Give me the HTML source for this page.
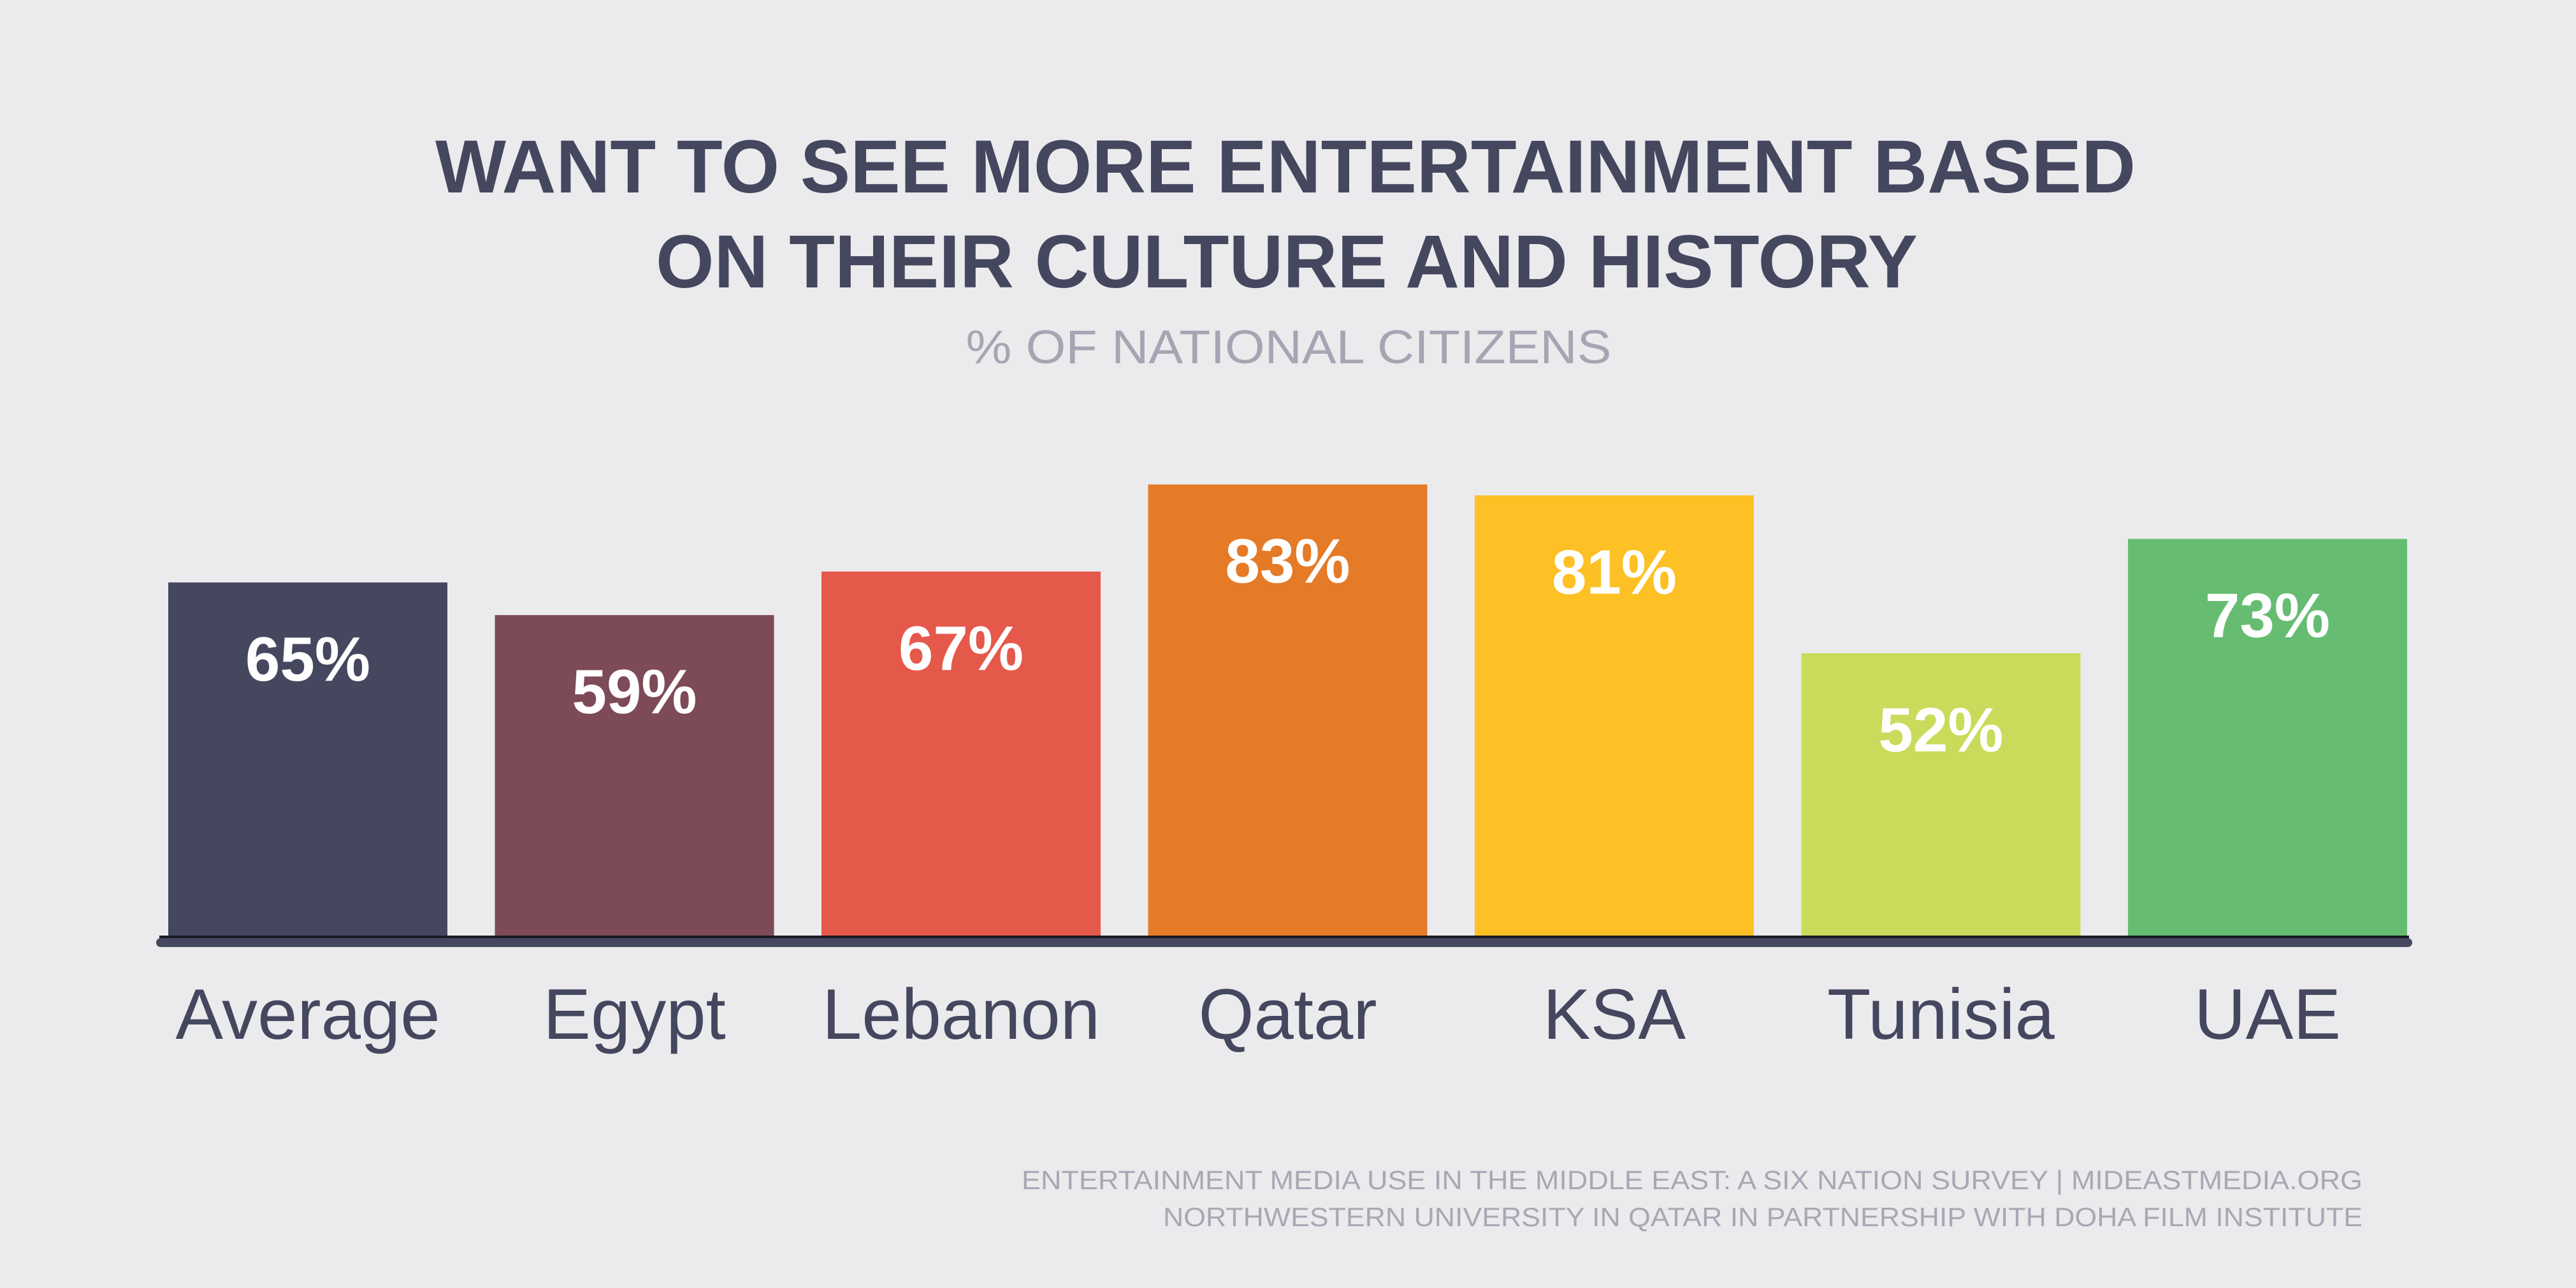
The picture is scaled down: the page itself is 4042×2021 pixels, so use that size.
<!DOCTYPE html>
<html><head><meta charset="utf-8"><style>
html,body{margin:0;padding:0;background:#ebebed;}
svg{display:block;}
text{font-family:"Liberation Sans",sans-serif;}
</style></head><body>
<svg id="chart" width="4042" height="2021" viewBox="0 0 4042 2021" xmlns="http://www.w3.org/2000/svg">
<rect x="0" y="0" width="4042" height="2021" fill="#ebebed"/>
<text x="2017" y="302" text-anchor="middle" font-size="118" font-weight="bold" fill="#45475f" textLength="2668" lengthAdjust="spacingAndGlyphs">WANT TO SEE MORE ENTERTAINMENT BASED</text>
<text x="2019" y="451" text-anchor="middle" font-size="118" font-weight="bold" fill="#45475f" textLength="1980" lengthAdjust="spacingAndGlyphs">ON THEIR CULTURE AND HISTORY</text>
<text x="2022" y="570" text-anchor="middle" font-size="74" fill="#a5a5b3" textLength="1013" lengthAdjust="spacingAndGlyphs">% OF NATIONAL CITIZENS</text>
<g id="bars"></g>
<rect x="245" y="1472" width="3540" height="14" rx="7" fill="#45475f"/>
<rect x="250" y="1468" width="3530" height="4" fill="#1a1a22"/>
<g id="labels"></g>
<text x="3707" y="1866" text-anchor="end" font-size="42" fill="#a8a8b5" textLength="2104" lengthAdjust="spacingAndGlyphs">ENTERTAINMENT MEDIA USE IN THE MIDDLE EAST: A SIX NATION SURVEY | MIDEASTMEDIA.ORG</text>
<text x="3707" y="1924" text-anchor="end" font-size="42" fill="#a8a8b5" textLength="1882" lengthAdjust="spacingAndGlyphs">NORTHWESTERN UNIVERSITY IN QATAR IN PARTNERSHIP WITH DOHA FILM INSTITUTE</text>
</svg>
<script>
const categories = ["Average", "Egypt", "Lebanon", "Qatar", "KSA", "Tunisia", "UAE"];
const values = [65, 59, 67, 83, 81, 52, 73];
const valueLabels = ["65%", "59%", "67%", "83%", "81%", "52%", "73%"];
const colors = ["#45475f", "#7d4a58", "#e5594b", "#e57a27", "#fdc125", "#cadb5b", "#66bd72"];

const NS = "http://www.w3.org/2000/svg";
const baseY = 1469, pxPerPct = 8.54;
const firstX = 264, step = 512.5, barW = 438;
function xScale(i){ return firstX + i * step; }
function yScale(v){ return baseY - v * pxPerPct; }

const gBars = document.getElementById("bars");
const gLabels = document.getElementById("labels");
categories.forEach((c, i) => {
  const x = xScale(i), y = yScale(values[i]);
  const r = document.createElementNS(NS, "rect");
  
  
  r.setAttribute("x", x); r.setAttribute("y", y);
  r.setAttribute("width", barW); r.setAttribute("height", baseY - y);
  r.setAttribute("fill", colors[i]);
  gBars.appendChild(r);

  const t = document.createElementNS(NS, "text");
  
  
  t.setAttribute("x", x + barW / 2); t.setAttribute("y", y + 154);
  t.setAttribute("text-anchor", "middle"); t.setAttribute("font-size", "98");
  t.setAttribute("font-weight", "bold"); t.setAttribute("fill", "#ffffff");
  t.textContent = valueLabels[i];
  gBars.appendChild(t);

  const l = document.createElementNS(NS, "text");
  
  
  l.setAttribute("x", x + barW / 2); l.setAttribute("y", 1630);
  l.setAttribute("text-anchor", "middle"); l.setAttribute("font-size", "112");
  l.setAttribute("fill", "#45475f");
  l.textContent = c;
  gLabels.appendChild(l);
});
</script>
</body></html>
